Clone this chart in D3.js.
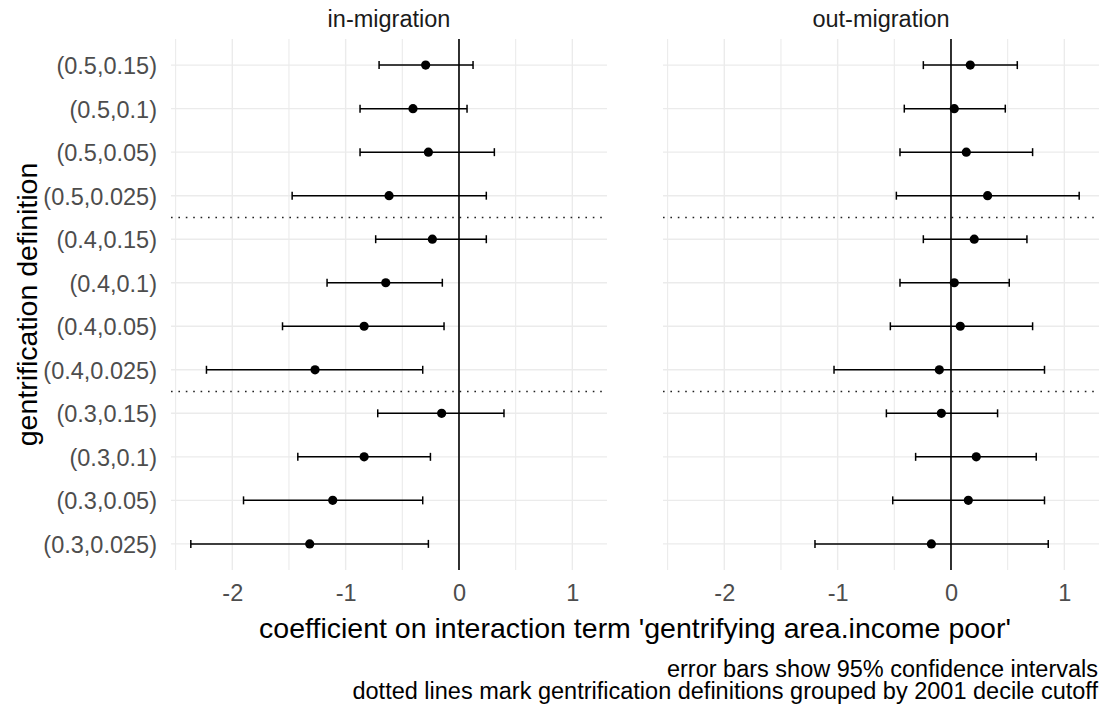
<!DOCTYPE html>
<html>
<head>
<meta charset="utf-8">
<script src="https://cdn.jsdelivr.net/npm/d3@7"></script>
<style>
  html, body { margin: 0; padding: 0; background: #fff; }
  svg { display: block; font-family: "Liberation Sans", Arial, sans-serif; }
</style>
</head>
<body>
<svg id="chart" width="1103" height="708"></svg>
<script>
// Gentrification definitions (top to bottom)
const categories = [
  "(0.5,0.15)", "(0.5,0.1)", "(0.5,0.05)", "(0.5,0.025)",
  "(0.4,0.15)", "(0.4,0.1)", "(0.4,0.05)", "(0.4,0.025)",
  "(0.3,0.15)", "(0.3,0.1)", "(0.3,0.05)", "(0.3,0.025)"
];

// Facets
const facets = ["in-migration", "out-migration"];

// in-migration: coefficient and 95% CI bounds
const inCoef = [-0.294, -0.406, -0.270, -0.617, -0.235, -0.646, -0.837, -1.270, -0.153, -0.837, -1.114, -1.317];
const inLow  = [-0.705, -0.873, -0.873, -1.472, -0.735, -1.164, -1.557, -2.228, -0.717, -1.422, -1.901, -2.366];
const inHigh = [ 0.124,  0.071,  0.312,  0.241,  0.241, -0.147, -0.132, -0.320,  0.397, -0.252, -0.320, -0.270];

// out-migration: coefficient and 95% CI bounds
const outCoef = [ 0.170,  0.029,  0.135,  0.323,  0.205,  0.029,  0.082, -0.103, -0.085,  0.223,  0.153, -0.173];
const outLow  = [-0.244, -0.412, -0.450, -0.482, -0.244, -0.450, -0.535, -1.032, -0.570, -0.312, -0.514, -1.200];
const outHigh = [ 0.585,  0.479,  0.720,  1.131,  0.670,  0.514,  0.720,  0.825,  0.411,  0.752,  0.825,  0.858];

// Axis ticks
const majorTicks = [-2, -1, 0, 1];
const minorTicks = [-2.5, -1.5, -0.5, 0.5];

// Group separators: drawn between these pairs of adjacent definitions
const groupBreaks = [["(0.5,0.025)", "(0.4,0.15)"], ["(0.4,0.025)", "(0.3,0.15)"]];

const xTitle = "coefficient on interaction term 'gentrifying area.income poor'";
const yTitle = "gentrification definition";
const captionLines = [
  "error bars show 95% confidence intervals",
  "dotted lines mark gentrification definitions grouped by 2001 decile cutoff"
];

// ---- layout ----
const svg = d3.select("#chart");
const panelTop = 39, panelBottom = 570;
const panelW = 436, panelGap = 56, firstPanelX = 171;
const smallFont = 23.5, titleFont = 28.5;
const gridCol = "#ebebeb", axisTextCol = "#4d4d4d";

const series = facets.map((name, i) => {
  const c = i === 0 ? inCoef : outCoef;
  const lo = i === 0 ? inLow : outLow;
  const hi = i === 0 ? inHigh : outHigh;
  return { name, rows: categories.map((cat, j) => ({ cat, est: c[j], lo: lo[j], hi: hi[j] })) };
});

// Shared x domain with 5% expansion on each side
const allVals = series.flatMap(s => s.rows.flatMap(r => [r.lo, r.hi]));
const [vmin, vmax] = d3.extent(allVals);
const pad = (vmax - vmin) * 0.05;
const xDomain = [vmin - pad, vmax + pad];

const y = d3.scalePoint().domain(categories).range([panelTop, panelBottom]).padding(0.6);

series.forEach((s, i) => {
  const x0 = firstPanelX + i * (panelW + panelGap);
  const x = d3.scaleLinear().domain(xDomain).range([x0, x0 + panelW]);
  const g = svg.append("g");

  // grid
  g.selectAll(".minor").data(minorTicks).join("line")
    .attr("x1", d => x(d)).attr("x2", d => x(d))
    .attr("y1", panelTop).attr("y2", panelBottom)
    .attr("stroke", gridCol).attr("stroke-width", 1.1);
  g.selectAll(".major").data(majorTicks).join("line")
    .attr("x1", d => x(d)).attr("x2", d => x(d))
    .attr("y1", panelTop).attr("y2", panelBottom)
    .attr("stroke", gridCol).attr("stroke-width", 1.4);
  g.selectAll(".hgrid").data(categories).join("line")
    .attr("x1", x0).attr("x2", x0 + panelW)
    .attr("y1", d => y(d)).attr("y2", d => y(d))
    .attr("stroke", gridCol).attr("stroke-width", 1.4);

  // group separators
  g.selectAll(".sep").data(groupBreaks).join("line")
    .attr("x1", x0).attr("x2", x0 + panelW)
    .attr("y1", d => (y(d[0]) + y(d[1])) / 2).attr("y2", d => (y(d[0]) + y(d[1])) / 2)
    .attr("stroke", "#222").attr("stroke-width", 1.6)
    .attr("stroke-dasharray", "1.6,5.8");

  // reference line at zero
  g.append("line")
    .attr("x1", x(0)).attr("x2", x(0))
    .attr("y1", panelTop).attr("y2", panelBottom)
    .attr("stroke", "#000").attr("stroke-width", 1.6);

  // error bars
  const eb = g.selectAll(".eb").data(s.rows).join("g").attr("stroke", "#000").attr("stroke-width", 1.5);
  eb.append("line").attr("x1", d => x(d.lo)).attr("x2", d => x(d.hi))
    .attr("y1", d => y(d.cat)).attr("y2", d => y(d.cat));
  eb.append("line").attr("x1", d => x(d.lo)).attr("x2", d => x(d.lo))
    .attr("y1", d => y(d.cat) - 4).attr("y2", d => y(d.cat) + 4);
  eb.append("line").attr("x1", d => x(d.hi)).attr("x2", d => x(d.hi))
    .attr("y1", d => y(d.cat) - 4).attr("y2", d => y(d.cat) + 4);

  // point estimates
  g.selectAll(".pt").data(s.rows).join("circle")
    .attr("cx", d => x(d.est)).attr("cy", d => y(d.cat)).attr("r", 4.6)
    .attr("fill", "#000");

  // x axis
  const ax = g.append("g").attr("transform", `translate(0,${panelBottom})`)
    .call(d3.axisBottom(x).tickValues(majorTicks).tickSize(0).tickPadding(0).tickFormat(d => String(d)));
  ax.select(".domain").remove();
  ax.selectAll("text").attr("dy", null).attr("y", 31)
    .attr("font-size", smallFont).attr("font-family", "Liberation Sans, Arial, sans-serif")
    .attr("fill", axisTextCol);

  // strip label
  svg.append("text").attr("x", x0 + panelW / 2).attr("y", 27)
    .attr("text-anchor", "middle").attr("font-size", smallFont).attr("fill", "#1a1a1a")
    .text(s.name);
});

// y axis (left panel only)
const ay = svg.append("g").attr("transform", `translate(${firstPanelX},0)`)
  .call(d3.axisLeft(y).tickSize(0).tickPadding(14));
ay.select(".domain").remove();
ay.selectAll("text").attr("font-size", smallFont).attr("font-family", "Liberation Sans, Arial, sans-serif")
  .attr("fill", axisTextCol).attr("dy", "0.36em");

// axis titles
const panelsMid = firstPanelX + (2 * panelW + panelGap) / 2;
svg.append("text").attr("x", panelsMid).attr("y", 638)
  .attr("text-anchor", "middle").attr("font-size", titleFont).attr("fill", "#000")
  .text(xTitle);
svg.append("text")
  .attr("transform", `translate(37,${(panelTop + panelBottom) / 2}) rotate(-90)`)
  .attr("text-anchor", "middle").attr("font-size", titleFont).attr("fill", "#000")
  .text(yTitle);

// caption
svg.append("g").selectAll("text").data(captionLines).join("text")
  .attr("x", 1098).attr("y", (d, i) => 677 + i * 21.5)
  .attr("text-anchor", "end").attr("font-size", smallFont).attr("fill", "#000")
  .text(d => d);
</script>
</body>
</html>
